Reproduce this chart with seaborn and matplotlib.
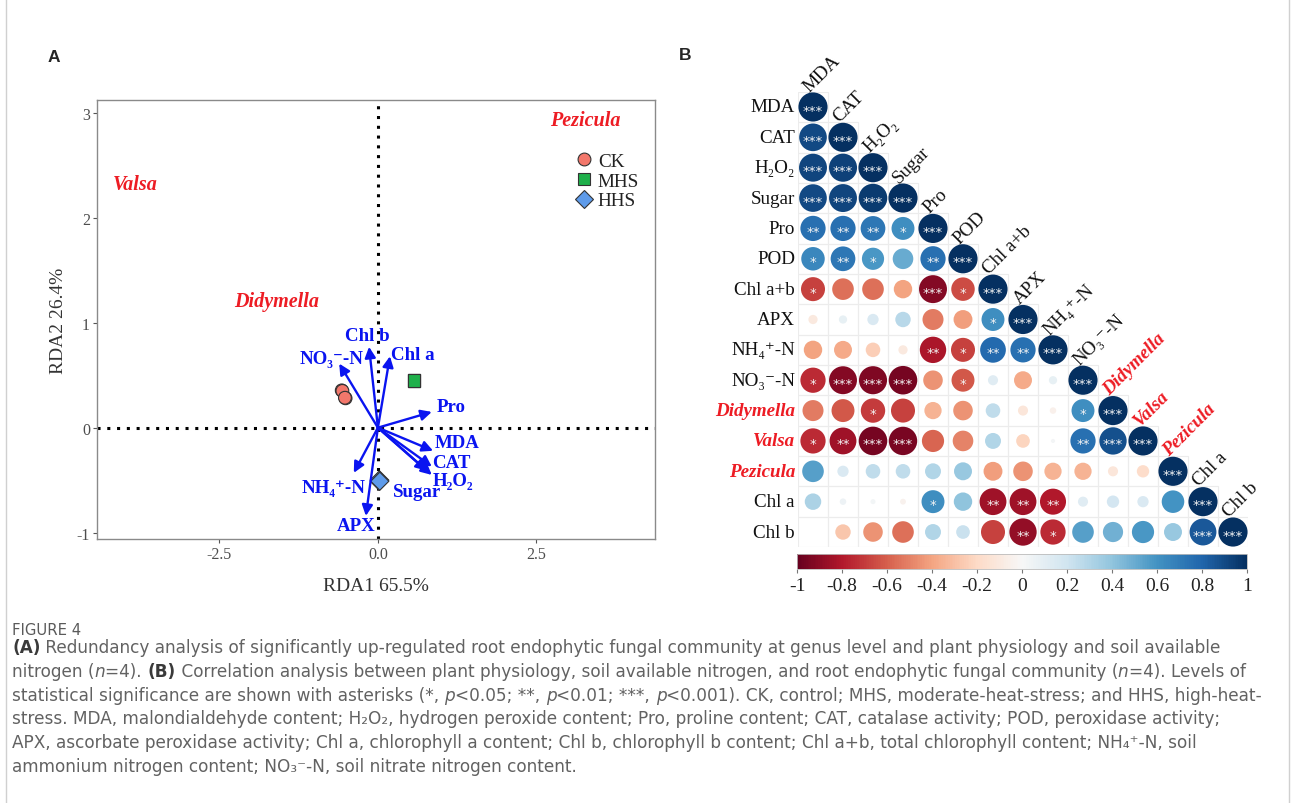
import re
import numpy as np
import pandas as pd
import seaborn as sns
import matplotlib.pyplot as plt
from matplotlib.patches import Rectangle
from matplotlib.lines import Line2D
from matplotlib.cm import ScalarMappable
from matplotlib.colors import Normalize

sns.set_style('white')
plt.rcParams['axes.unicode_minus'] = False

SERIF = ['Liberation Serif', 'DejaVu Serif']
SANS = ['DejaVu Sans']
RED = '#ED1C24'
BLUE = '#0A14F0'

# ---------------- panel A data (RDA) ----------------
site_group = ['CK', 'CK', 'CK', 'CK', 'MHS', 'MHS', 'MHS', 'MHS', 'HHS', 'HHS', 'HHS', 'HHS']
site_rda1 = [-0.57, -0.56, -0.51, -0.52, 0.57, 0.57, 0.57, 0.57, 0.02, 0.03, 0.02, 0.03]
site_rda2 = [0.355, 0.35, 0.28, 0.285, 0.45, 0.45, 0.45, 0.45, -0.51, -0.50, -0.50, -0.51]

env_names = ['Chl b', 'Chl a', 'NO₃⁻-N', 'Pro', 'MDA', 'CAT', 'H₂O₂', 'Sugar', 'NH₄⁺-N', 'APX']
env_rda1 = [-0.14, 0.19, -0.61, 0.85, 0.87, 0.85, 0.85, 0.77, -0.38, -0.19]
env_rda2 = [0.77, 0.68, 0.61, 0.15, -0.22, -0.37, -0.45, -0.41, -0.43, -0.84]
# where each arrow label sits
env_lab_x = [-0.16, 0.55, -0.73, 1.15, 1.25, 1.16, 1.19, 0.62, -0.70, -0.34]
env_lab_y = [0.88, 0.70, 0.66, 0.20, -0.14, -0.33, -0.50, -0.61, -0.57, -0.93]

genus_names = ['Pezicula', 'Valsa', 'Didymella']
genus_rda1 = [3.27, -3.83, -1.59]
genus_rda2 = [2.93, 2.32, 1.21]

# ---------------- panel B data (correlations) ----------------
var_names = ['MDA', 'CAT', 'H₂O₂', 'Sugar', 'Pro', 'POD', 'Chl a+b', 'APX',
             'NH₄⁺-N', 'NO₃⁻-N', 'Didymella', 'Valsa', 'Pezicula', 'Chl a', 'Chl b']
genus_vars = ['Didymella', 'Valsa', 'Pezicula']

corr_rows = [
    [1.00],
    [0.90, 1.00],
    [0.92, 0.93, 1.00],
    [0.90, 0.92, 0.96, 1.00],
    [0.75, 0.75, 0.72, 0.62, 1.00],
    [0.65, 0.72, 0.58, 0.50, 0.75, 1.00],
    [-0.68, -0.55, -0.55, -0.40, -0.92, -0.65, 1.00],
    [-0.10, 0.08, 0.15, 0.28, -0.52, -0.42, 0.62, 1.00],
    [-0.40, -0.38, -0.25, -0.10, -0.82, -0.68, 0.78, 0.75, 1.00],
    [-0.75, -0.92, -0.93, -0.96, -0.45, -0.62, 0.12, -0.38, 0.08, 1.00],
    [-0.52, -0.62, -0.70, -0.68, -0.35, -0.45, 0.25, -0.12, -0.05, 0.62, 1.00],
    [-0.75, -0.85, -0.96, -0.95, -0.58, -0.50, 0.30, -0.22, 0.02, 0.75, 0.88, 1.00],
    [0.55, 0.15, 0.25, 0.25, 0.30, 0.38, -0.42, -0.45, -0.35, -0.35, -0.12, -0.18, 1.00],
    [0.32, 0.05, 0.03, -0.04, 0.62, 0.40, -0.85, -0.85, -0.80, 0.12, 0.18, 0.15, 0.60, 1.00],
    [0.00, -0.28, -0.45, -0.55, 0.30, 0.22, -0.68, -0.88, -0.75, 0.55, 0.48, 0.58, 0.38, 0.85, 1.00],
]
# number of asterisks per cell
sig_rows = [
    [3],
    [3, 3],
    [3, 3, 3],
    [3, 3, 3, 3],
    [2, 2, 2, 1, 3],
    [1, 2, 1, 0, 2, 3],
    [1, 0, 0, 0, 3, 1, 3],
    [0, 0, 0, 0, 0, 0, 1, 3],
    [0, 0, 0, 0, 2, 1, 2, 2, 3],
    [1, 3, 3, 3, 0, 1, 0, 0, 0, 3],
    [0, 0, 1, 0, 0, 0, 0, 0, 0, 1, 3],
    [1, 2, 3, 3, 0, 0, 0, 0, 0, 2, 3, 3],
    [0, 0, 0, 0, 0, 0, 0, 0, 0, 0, 0, 0, 3],
    [0, 0, 0, 0, 1, 0, 2, 2, 2, 0, 0, 0, 0, 3],
    [0, 0, 0, 0, 0, 0, 0, 2, 1, 0, 0, 0, 0, 3, 3],
]
cbar_ticks = [-1, -0.8, -0.6, -0.4, -0.2, 0, 0.2, 0.4, 0.6, 0.8, 1]
cbar_labels = ['-1', '-0.8', '-0.6', '-0.4', '-0.2', '0', '0.2', '0.4', '0.6', '0.8', '1']

caption_lines = [
    '<b>(A)</b> Redundancy analysis of significantly up-regulated root endophytic fungal community at genus level and plant physiology and soil available',
    'nitrogen (<i>n</i>=4). <b>(B)</b> Correlation analysis between plant physiology, soil available nitrogen, and root endophytic fungal community (<i>n</i>=4). Levels of',
    'statistical significance are shown with asterisks (*, <i>p</i><0.05; **, <i>p</i><0.01; ***, <i>p</i><0.001). CK, control; MHS, moderate-heat-stress; and HHS, high-heat-',
    'stress. MDA, malondialdehyde content; H₂O₂, hydrogen peroxide content; Pro, proline content; CAT, catalase activity; POD, peroxidase activity;',
    'APX, ascorbate peroxidase activity; Chl a, chlorophyll a content; Chl b, chlorophyll b content; Chl a+b, total chlorophyll content; NH₄⁺-N, soil',
    'ammonium nitrogen content; NO₃⁻-N, soil nitrate nitrogen content.',
]

W, H = 1293, 804
fig = plt.figure(figsize=(W / 100, H / 100), dpi=100)


def box(l, t, r, b):
    return [l / W, 1 - b / H, (r - l) / W, (b - t) / H]


# ---------------- panel A ----------------
axA = fig.add_axes(box(97, 101, 655, 540))
sites = pd.DataFrame({'group': site_group, 'RDA1': site_rda1, 'RDA2': site_rda2})
axA.axhline(0, color='black', lw=2.2, ls=(0, (1, 2.2)), zorder=1)
axA.axvline(0, color='black', lw=2.2, ls=(0, (1, 2.2)), zorder=1)
sns.scatterplot(data=sites, x='RDA1', y='RDA2', hue='group', style='group',
                hue_order=['CK', 'MHS', 'HHS'],
                markers={'CK': 'o', 'MHS': 's', 'HHS': 'D'},
                palette={'CK': '#F3776B', 'MHS': '#1FB04B', 'HHS': '#5E9BEA'},
                s=85, edgecolor='#333333', linewidth=0.8, ax=axA, zorder=3)

for name, x, y, lx, ly in zip(env_names, env_rda1, env_rda2, env_lab_x, env_lab_y):
    axA.annotate('', xy=(x, y), xytext=(0, 0),
                 arrowprops=dict(arrowstyle='-|>', color=BLUE, lw=1.7,
                                 mutation_scale=16, shrinkA=0, shrinkB=0), zorder=4)
    axA.text(lx, ly, name, color=BLUE, fontsize=13.6, fontweight='bold',
             family=SERIF, ha='center', va='center', zorder=5)

for name, x, y in zip(genus_names, genus_rda1, genus_rda2):
    axA.text(x, y, name, color=RED, fontsize=14.5, fontweight='bold', style='italic',
             family=SERIF, ha='center', va='center')

axA.set_xlim(-4.43, 4.37)
axA.set_ylim(-1.06, 3.12)
axA.set_xticks([-2.5, 0, 2.5])
axA.set_xticklabels(['-2.5', '0.0', '2.5'])
axA.set_yticks([-1, 0, 1, 2, 3])
axA.set_yticklabels(['-1', '0', '1', '2', '3'])
axA.tick_params(length=3, width=0.8, color='#555555', labelsize=11.5,
                labelcolor='#4d4d4d', pad=2, bottom=True, left=True)
for lbl in axA.get_xticklabels() + axA.get_yticklabels():
    lbl.set_fontfamily(SERIF)
for sp in axA.spines.values():
    sp.set_color('#8a8a8a')
    sp.set_linewidth(1)
axA.set_xlabel('RDA1 65.5%', family=SERIF, fontsize=14, color='#333333', labelpad=11)
axA.set_ylabel('RDA2 26.4%', family=SERIF, fontsize=14, color='#333333', labelpad=7)

sns.move_legend(axA, 'upper left', bbox_to_anchor=(0.834, 0.902), frameon=False,
                title=None, prop={'family': SERIF, 'size': 13.8},
                handletextpad=0.05, labelspacing=0.12, borderpad=0,
                handlelength=1.3, markerscale=1.0)
for t in axA.get_legend().get_texts():
    t.set_color('#222222')

# ---------------- panel B ----------------
axB = fig.add_axes(box(798, 92.8, 1248, 548.2))
recs = []
for i, row in enumerate(corr_rows):
    for j, r in enumerate(row):
        recs.append({'row': i, 'col': j, 'r': r, 'absr': abs(r), 'sig': sig_rows[i][j]})
cells = pd.DataFrame(recs)

for _, c in cells.iterrows():
    axB.add_patch(Rectangle((c['col'] - 0.5, c['row'] - 0.5), 1, 1, fill=False,
                            ec='#ececec', lw=0.8, zorder=0))

sns.scatterplot(data=cells, x='col', y='row', hue='r', palette='RdBu', hue_norm=(-1, 1),
                size='absr', sizes=(0, 440), size_norm=(0, 1), linewidth=0,
                legend=False, ax=axB, zorder=2)

for _, c in cells[cells['sig'] > 0].iterrows():
    axB.text(c['col'], c['row'] + 0.1, '*' * int(c['sig']), color='#f4f4f4',
             ha='center', va='center', fontsize=9.5, zorder=3)

for i, name in enumerate(var_names):
    kw = dict(family=SERIF, fontsize=13.7, color='#111111')
    if name in genus_vars:
        kw.update(color=RED, fontweight='bold', style='italic')
    axB.text(-0.6, i, name, ha='right', va='center', **kw)
    axB.text(i - 0.12, i - 0.5, name, rotation=45, rotation_mode='anchor',
             ha='left', va='baseline', **kw)

axB.set_xlim(-0.5, 14.5)
axB.set_ylim(14.5, -0.5)
axB.axis('off')

cax = fig.add_axes(box(797, 555, 1247, 570))
cb = fig.colorbar(ScalarMappable(Normalize(-1, 1), 'RdBu'), cax=cax, orientation='horizontal')
cb.set_ticks(cbar_ticks)
cb.set_ticklabels(cbar_labels)
cax.tick_params(length=3, width=0.8, color='#777777', labelsize=14, labelcolor='#222222', pad=3)
for lbl in cax.get_xticklabels():
    lbl.set_fontfamily(SERIF)
cb.outline.set_edgecolor('#bbbbbb')
cb.outline.set_linewidth(0.6)

# ---------------- panel letters, frame, caption ----------------
fig.text(48 / W, 1 - 57 / H, 'A', fontsize=12.5, fontweight='bold',
         family=['Liberation Sans', 'DejaVu Sans'], va='center')
fig.text(679 / W, 1 - 55 / H, 'B', fontsize=12.5, fontweight='bold',
         family=['Liberation Sans', 'DejaVu Sans'], va='center')
for xf in (6 / W, 1289 / W):
    fig.add_artist(Line2D([xf, xf], [0, 1], color='#d0d0d0', lw=1, transform=fig.transFigure))

renderer = fig.canvas.get_renderer()


def run_width(s, **kw):
    t1 = fig.text(0, 0, s + '|', **kw)
    t2 = fig.text(0, 0, '|', **kw)
    w = t1.get_window_extent(renderer).width - t2.get_window_extent(renderer).width
    t1.remove()
    t2.remove()
    return w


def parts_of(line):
    out = []
    for part in re.split(r'(<[bi]>.*?</[bi]>)', line):
        if not part:
            continue
        kw = {}
        if part.startswith('<b>'):
            part = part[3:-4]
            kw = dict(fontweight='bold', color='#3a3a3a')
        elif part.startswith('<i>'):
            part = part[3:-4]
            kw = dict(style='italic')
        out.append((part, kw))
    return out


# fit caption font so the first line spans the text block (12 px .. 1222 px)
probe = sum(run_width(p, family=SANS, fontsize=10, **kw) for p, kw in parts_of(caption_lines[0]))
CAP_SIZE = 10 * 1210 / probe

fig.text(12 / W, 1 - 631 / H, 'FIGURE 4', fontsize=CAP_SIZE * 0.88, family=SANS,
         color='#5a5a5a', va='center')

for k, line in enumerate(caption_lines):
    y = 1 - (648 + k * 23.8) / H
    x = 12.0
    for part, extra in parts_of(line):
        kw = dict(fontsize=CAP_SIZE, family=SANS, color='#626262')
        kw.update(extra)
        fig.text(x / W, y, part, va='center', **kw)
        x += run_width(part, **kw)

fig.savefig('out.png', dpi=100, facecolor='white')
